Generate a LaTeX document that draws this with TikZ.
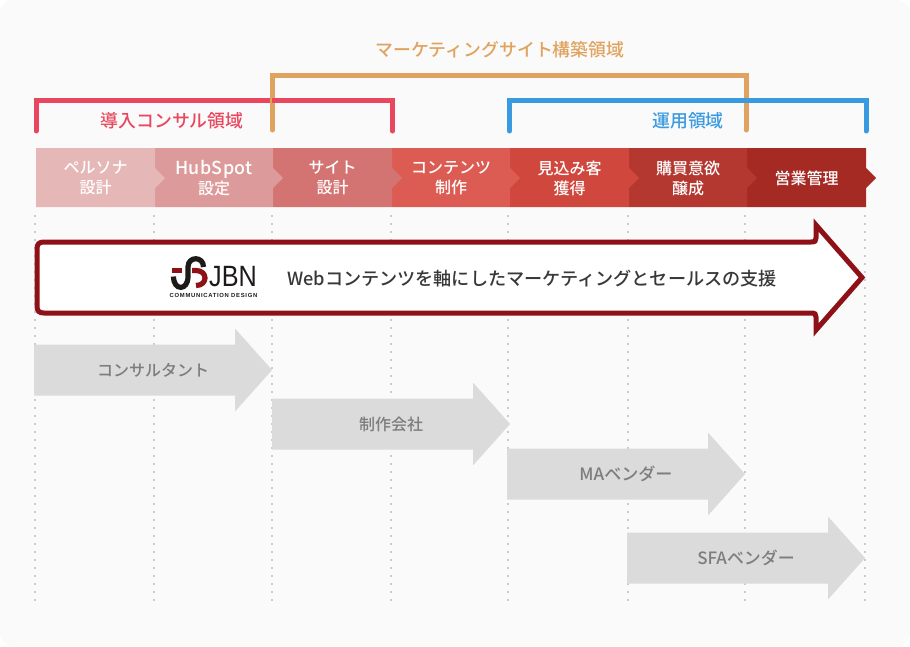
\documentclass[tikz,border=0pt]{standalone}
\usepackage{fontspec}
\usetikzlibrary{shadows}
\setmainfont{Noto Sans CJK JP Medium}
\newfontfamily\logofont{Liberation Sans}
\newfontfamily\logosmall[LetterSpace=12]{Liberation Sans Bold}
\newfontfamily\widefont[LetterSpace=2]{Noto Sans CJK JP Medium}
\definecolor{panelbg}{HTML}{FAFAFA}
\definecolor{consulred}{HTML}{E8475F}
\definecolor{siteorange}{HTML}{DFA35F}
\definecolor{opsblue}{HTML}{3A9AE0}
\definecolor{jbnred}{HTML}{8F1118}
\definecolor{guidegray}{HTML}{CCCCCC}
\definecolor{vendorgray}{HTML}{DBDBDB}
\definecolor{vendortext}{HTML}{7D7D7D}
\definecolor{logoblack}{HTML}{1E1A1A}
\definecolor{segA}{HTML}{E6B7B7}
\definecolor{segB}{HTML}{DD9A9A}
\definecolor{segC}{HTML}{D37472}
\definecolor{segD}{HTML}{DC5C54}
\definecolor{segE}{HTML}{CF473D}
\definecolor{segF}{HTML}{B43730}
\definecolor{segG}{HTML}{A52A24}
\tikzset{
  bracketline/.style={line width=3.75pt, line cap=round, line join=miter},
  zonelabel/.style={font=\fontsize{13.4}{16}\selectfont, inner sep=0pt},
  seglabel/.style={font=\fontsize{12}{15}\selectfont, text=white, align=center, inner sep=0pt},
  vendorarrow/.style={fill=vendorgray},
  vendorlabel/.style={font=\fontsize{12}{15}\selectfont, text=vendortext, inner sep=0pt},
  logored/.style={draw=jbnred, line width=3.9pt},
  logoblk/.style={draw=logoblack, line width=3.9pt}
}
\begin{document}
\begin{tikzpicture}[x=0.75pt, y=-0.75pt]
  \useasboundingbox (0,0) rectangle (910,646);
  % Panel
  \fill[white] (0,0) rectangle (910,646);
  \fill[panelbg, rounded corners=10pt] (0,0) rectangle (910,646);
  % Guides
  \foreach \gx in {35,154,272,391,508,628,745,865} {
    \draw[guidegray, line width=1.5pt, dash pattern=on 1.5pt off 4.5pt] (\gx,215) -- (\gx,603);
  }
  % Zone brackets
  \draw[bracketline, consulred] (36,131) -- (36,100.5) -- (392.5,100.5) -- (392.5,131);
  \draw[bracketline, siteorange] (272.5,130) -- (272.5,75) -- (746,75) -- (746,130);
  \draw[bracketline, opsblue] (509.5,131) -- (509.5,100.5) -- (866,100.5) -- (866,131);
  \draw[consulred, line width=3.75pt] (272,100.5) -- (274.5,100.5);
  \node[zonelabel, text=siteorange] (sitezone) at (500,49.5) {マーケティングサイト構築領域};
  \node[zonelabel, text=consulred] (consulzone) at (172,121) {導入コンサル領域};
  \node[zonelabel, text=opsblue] (opszone) at (688,121) {運用領域};
  % Process bar, last one first so each tip lies on the next
  \foreach \xa/\xb/\segcol/\segname/\segtext in {
      747/866/segG/seggoal/営業管理,
      629/747/segF/segnurture/購買意欲\\醸成,
      510/629/segE/segleads/見込み客\\獲得,
      392/510/segD/segcontent/コンテンツ\\制作,
      273/392/segC/segsite/サイト\\設計,
      155/273/segB/seghub/{\widefont\fontsize{13.4}{15}\selectfont HubSpot}\\設定,
      36/155/segA/segpersona/ペルソナ\\設計} {
    \fill[\segcol] (\xa,148) -- (\xb,148) -- (\xb,168) -- (\xb+10,178) -- (\xb,188) -- (\xb,207) -- (\xa,207) -- cycle;
    \node[seglabel] (\segname) at ({(\xa+\xb)/2},178) {\segtext};
  }
  % JBN arrow
  \draw[jbnred, fill=white, line width=3.75pt, miter limit=10,
        drop shadow={shadow xshift=0pt, shadow yshift=-1.2pt, opacity=0.18}]
    (37,249) .. controls (37,244) and (39,242) .. (44,242) -- (811,242)
    .. controls (815,242) and (816,241) .. (816,238) -- (816,225) -- (862,277.5) -- (816,330) -- (816,317)
    .. controls (816,314) and (815,313) .. (811,313) -- (44,313)
    .. controls (39,313) and (37,311) .. (37,306) -- cycle;
  % Logo
  \draw[logored] (171.5,270.5) -- (181.5,270.5);
  \draw[logoblk] (173.5,276.5) .. controls (173.5,291) and (188,291) .. (188,276.5) -- (188,267)
    .. controls (188,256) and (203.5,256) .. (203.5,267);
  \draw[logored] (192,270.5) -- (196,270.5) .. controls (208,270.5) and (208,285.5) .. (196,285.5);
  \node[inner sep=0pt, xscale=0.86, font=\logofont\fontsize{22}{22}\selectfont, text=logoblack] (jbnmark) at (233,277) {JBN};
  \node[inner sep=0pt, font=\logosmall\fontsize{4.4}{5}\selectfont, text=logoblack] (jbnsub) at (213.5,295) {COMMUNICATION DESIGN};
  \node[inner sep=0pt, font=\fontsize{13.6}{16}\selectfont, text=black!78] (jbnlabel) at (532,279) {Webコンテンツを軸にしたマーケティングとセールスの支援};
  % Vendors
  \foreach \ax/\ay/\vname/\vsize/\vtext in {
      34/370/vconsul/12/コンサルタント,
      272/424/vmaker/12/制作会社,
      507/474/vma/12.8/MAベンダー,
      627/558/vsfa/12.7/SFAベンダー} {
    \fill[vendorarrow] (\ax,\ay-25.5) -- (\ax+201,\ay-25.5) -- (\ax+201,\ay-41.5) -- (\ax+238,\ay) -- (\ax+201,\ay+41.5) -- (\ax+201,\ay+25.5) -- (\ax,\ay+25.5) -- cycle;
    \node[vendorlabel, font=\fontsize{\vsize}{15}\selectfont] (\vname) at (\ax+119,\ay) {\vtext};
  }
\end{tikzpicture}
\end{document}
